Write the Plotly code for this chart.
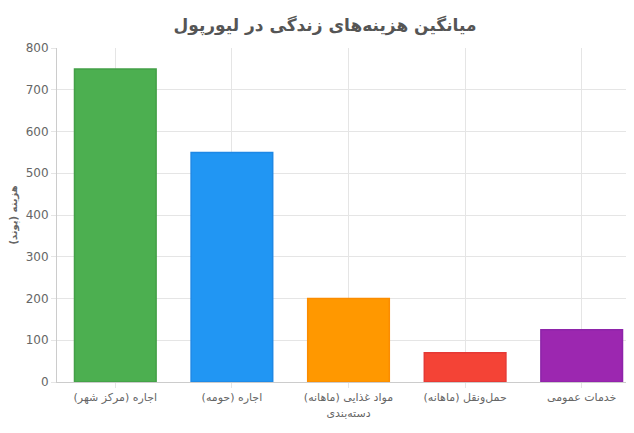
import plotly.graph_objects as go

categories = ["اجاره (مرکز شهر)", "اجاره (حومه)", "مواد غذایی (ماهانه)", "حمل‌ونقل (ماهانه)", "خدمات عمومی"]
values = [750, 550, 200, 70, 125]
colors = ["#4CAF50", "#2196F3", "#FF9800", "#F44336", "#9C27B0"]
borders = ["#43A047", "#1E88E5", "#FB8C00", "#E53935", "#8E24AA"]

fig = go.Figure(go.Bar(
    x=categories, y=values,
    marker=dict(color=colors, line=dict(color=borders, width=1.5)),
    width=0.7,
))
fig.update_layout(
    width=634, height=433,
    paper_bgcolor="white", plot_bgcolor="white",
    margin=dict(l=49, r=2, t=40, b=59),
    title=dict(text="<b>میانگین هزینه‌های زندگی در لیورپول</b>", x=0.5, y=0.975, xanchor="center",
               font=dict(family="DejaVu Sans", size=17, color="#555")),
    font=dict(family="DejaVu Sans", size=11, color="#666"),
    showlegend=False,
)
fig.update_xaxes(title=dict(text="دسته‌بندی", font=dict(size=11, color="#666"), standoff=6),
                 showgrid=True, gridcolor="#e5e5e5", showline=True, linecolor="#ccc",
                 tickfont=dict(size=11, color="#666"), ticks="outside", ticklen=5, tickcolor="#e5e5e5")
fig.update_yaxes(title=dict(text="<b>هزینه (پوند)</b>", font=dict(size=10, color="#666"), standoff=10),
                 range=[0, 800], dtick=100, showgrid=True, gridcolor="#e5e5e5",
                 showline=True, linecolor="#ccc", tickfont=dict(size=12, color="#666"),
                 ticks="outside", ticklen=5, tickcolor="#e5e5e5", zeroline=False)
fig.write_html("out.html")
